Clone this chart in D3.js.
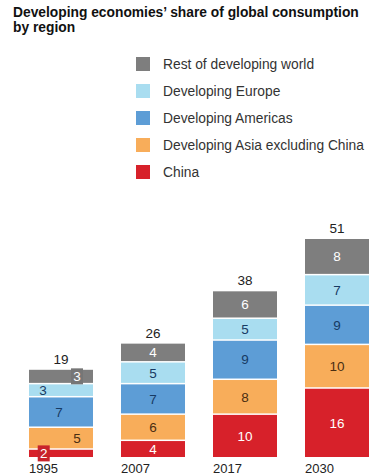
<!DOCTYPE html>
<html>
<head>
<meta charset="utf-8">
<script src="https://cdn.jsdelivr.net/npm/d3@7"></script>
<style>
  html, body { margin: 0; padding: 0; background: #fff; }
  svg { display: block; }
</style>
</head>
<body>
<svg id="chart" width="381" height="475"></svg>
<script>
// ---- data ----
const years = ["1995", "2007", "2017", "2030"];
const series = ["China", "Developing Asia excluding China", "Developing Americas", "Developing Europe", "Rest of developing world"];
const china    = [2, 4, 10, 16];
const asiaExCn = [5, 6, 8, 10];
const americas = [7, 7, 9, 9];
const europe   = [3, 5, 5, 7];
const restWorld = [3, 4, 6, 8];
const totals   = [19, 26, 38, 51];
const legendOrder = ["Rest of developing world", "Developing Europe", "Developing Americas", "Developing Asia excluding China", "China"];

// ---- styles ----
const colors = {
  "China": "#d7212a",
  "Developing Asia excluding China": "#f8ad5a",
  "Developing Americas": "#5d9dd6",
  "Developing Europe": "#a9ddf0",
  "Rest of developing world": "#7e7e7e"
};
const labelColors = {
  "China": "#ffffff",
  "Developing Asia excluding China": "#4a2e12",
  "Developing Americas": "#173a63",
  "Developing Europe": "#173a63",
  "Rest of developing world": "#ffffff"
};

const table = years.map((y, i) => ({
  year: y,
  "China": china[i],
  "Developing Asia excluding China": asiaExCn[i],
  "Developing Americas": americas[i],
  "Developing Europe": europe[i],
  "Rest of developing world": restWorld[i],
  total: totals[i]
}));

const svg = d3.select("#chart");
const font = "'Liberation Sans', Arial, sans-serif";

// title
const title = svg.append("text").attr("font-family", font).attr("font-weight", "bold")
  .attr("font-size", 13.8).attr("fill", "#111");
title.append("tspan").attr("x", 13).attr("y", 17).text("Developing economies\u2019 share of global consumption");
title.append("tspan").attr("x", 13).attr("y", 32).text("by region");

// legend
const legend = svg.append("g");
legendOrder.forEach((s, i) => {
  const g = legend.append("g").attr("transform", `translate(136, ${57 + i * 27})`);
  g.append("rect").attr("width", 14).attr("height", 14).attr("fill", colors[s]);
  g.append("text").attr("x", 27).attr("y", 12).attr("font-family", font)
    .attr("font-size", 13.8).attr("fill", "#333").text(s);
});

// scales
const x = d3.scaleBand().domain(years).range([29, 369]).paddingInner(28 / 92).paddingOuter(0);
const y = d3.scaleLinear().domain([0, 50]).range([457, 239]);

const stack = d3.stack().keys(series)(table);

const gap = 1.5;
const topKey = series[series.length - 1];
const layers = svg.append("g").selectAll("g").data(stack).join("g")
  .attr("fill", d => colors[d.key]);

layers.selectAll("rect").data(d => d.map(p => Object.assign(p, { key: d.key }))).join("rect")
  .attr("x", d => x(d.data.year))
  .attr("width", x.bandwidth())
  .attr("y", d => y(d[1]) + (d.key === topKey ? 0 : gap))
  .attr("height", d => y(d[0]) - y(d[1]) - (d.key === topKey ? 0 : gap));

// label x shifts for crowded 1995 bar (fraction of band width from centre)
const shift1995 = {
  "China": -0.27,
  "Developing Asia excluding China": 0.25,
  "Developing Americas": -0.03,
  "Developing Europe": -0.28,
  "Rest of developing world": 0.25
};
const boxed1995 = ["China", "Rest of developing world"];

stack.forEach(layer => {
  layer.forEach(d => {
    const yr = d.data.year;
    let cx = x(yr) + x.bandwidth() / 2;
    let cy = (y(d[0]) + y(d[1])) / 2 + (layer.key === topKey ? 0 : gap / 2);
    if (yr === "1995") {
      cx += shift1995[layer.key] * x.bandwidth();
      if (boxed1995.includes(layer.key)) {
        svg.append("rect").attr("x", cx - 6).attr("y", cy - 8).attr("width", 12).attr("height", 16)
          .attr("fill", layer.key === "China" ? "#c8232b" : "#767676");
      }
    }
    svg.append("text").attr("x", cx).attr("y", cy + 4.8)
      .attr("text-anchor", "middle").attr("font-family", font).attr("font-size", 13.5)
      .attr("fill", labelColors[layer.key]).text(d.data[layer.key]);
  });
});

// totals
svg.append("g").selectAll("text").data(table).join("text")
  .attr("x", d => x(d.year) + x.bandwidth() / 2)
  .attr("y", d => y(d3.sum(series, s => d[s])) - 6)
  .attr("text-anchor", "middle").attr("font-family", font).attr("font-size", 13.5)
  .attr("fill", "#222").text(d => d.total);

// x axis labels (year)
const xAxis = d3.axisBottom(x).tickSize(0).tickPadding(0);
const ax = svg.append("g").attr("transform", "translate(0, 473)").call(xAxis);
ax.select(".domain").remove();
ax.selectAll("text").attr("font-family", font).attr("font-size", 13).attr("fill", "#222")
  .attr("text-anchor", "start").attr("dy", "0")
  .attr("transform", d => `translate(${-x.bandwidth() / 2}, 0)`);
</script>
</body>
</html>
